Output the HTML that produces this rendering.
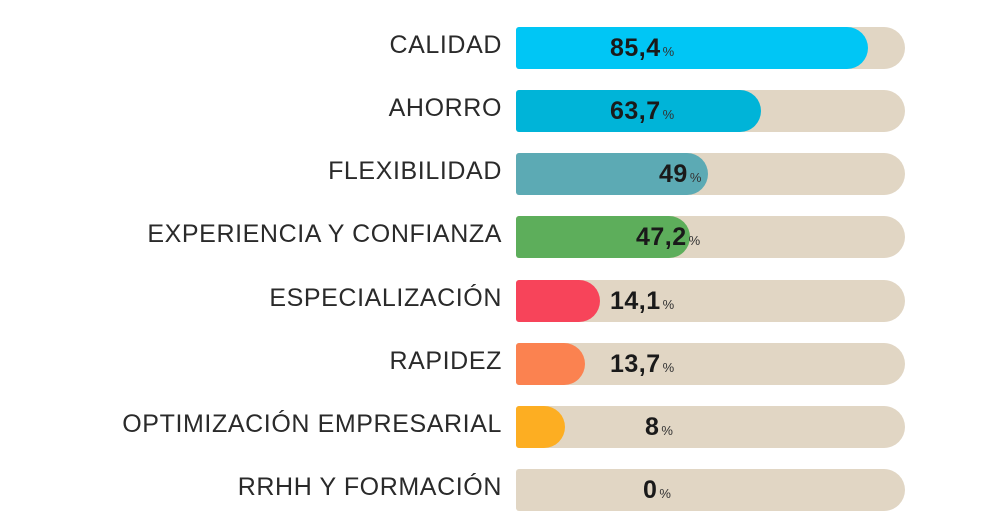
<!DOCTYPE html>
<html><head><style>
body{margin:0;width:1000px;height:500px;background:#fff;overflow:hidden;position:relative;font-family:"Liberation Sans",sans-serif}
.l{position:absolute;right:498px;font-size:25px;color:#2a2a2a;letter-spacing:0.6px;line-height:42px;white-space:nowrap}
.t{position:absolute;left:516px;width:389px;height:42px;background:#e1d6c4;border-radius:3px 21px 21px 3px}
.b{position:absolute;left:516px;height:42px;border-radius:3px 21px 21px 3px}
.v{position:absolute;font-size:25px;font-weight:bold;color:#1a1a1a;line-height:42px;letter-spacing:0.5px}
.v span{font-size:13px;font-weight:normal;margin-left:2px;color:#333}
</style></head><body>
<div class="l" style="top:24px">CALIDAD</div>
<div class="t" style="top:27px"></div><div class="b" style="top:27px;width:352px;background:#00c6f5"></div>
<div class="v" style="top:27px;left:610px">85,4<span>%</span></div>

<div class="l" style="top:87px">AHORRO</div>
<div class="t" style="top:90px"></div><div class="b" style="top:90px;width:245px;background:#00b4d8"></div>
<div class="v" style="top:90px;left:610px">63,7<span>%</span></div>

<div class="l" style="top:150px">FLEXIBILIDAD</div>
<div class="t" style="top:153px"></div><div class="b" style="top:153px;width:192px;background:#5caab4"></div>
<div class="v" style="top:153px;left:659px">49<span>%</span></div>

<div class="l" style="top:213px">EXPERIENCIA Y CONFIANZA</div>
<div class="t" style="top:216px"></div><div class="b" style="top:216px;width:174px;background:#5dae5b"></div>
<div class="v" style="top:216px;left:636px">47,2<span>%</span></div>

<div class="l" style="top:277px">ESPECIALIZACIÓN</div>
<div class="t" style="top:280px"></div><div class="b" style="top:280px;width:84px;background:#f7445a"></div>
<div class="v" style="top:280px;left:610px">14,1<span>%</span></div>

<div class="l" style="top:340px">RAPIDEZ</div>
<div class="t" style="top:343px"></div><div class="b" style="top:343px;width:69px;background:#fb8250"></div>
<div class="v" style="top:343px;left:610px">13,7<span>%</span></div>

<div class="l" style="top:403px">OPTIMIZACIÓN EMPRESARIAL</div>
<div class="t" style="top:406px"></div><div class="b" style="top:406px;width:49px;background:#fdae22"></div>
<div class="v" style="top:406px;left:645px">8<span>%</span></div>

<div class="l" style="top:466px">RRHH Y FORMACIÓN</div>
<div class="t" style="top:469px"></div>
<div class="v" style="top:469px;left:643px">0<span>%</span></div>
</body></html>
